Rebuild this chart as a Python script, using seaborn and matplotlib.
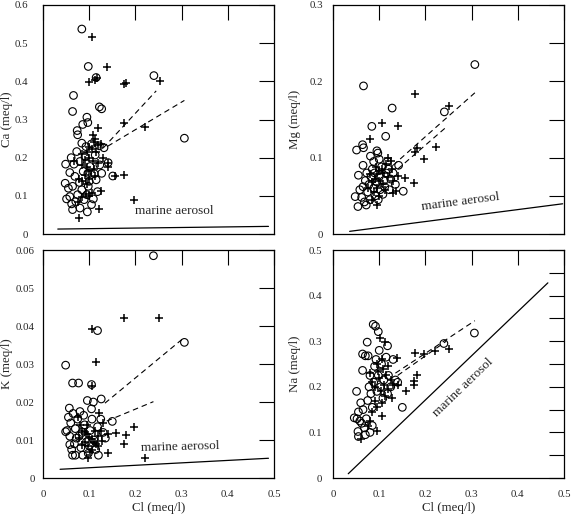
import matplotlib
matplotlib.use("Agg")
import matplotlib.pyplot as plt
import seaborn as sns
from matplotlib.ticker import MultipleLocator, FixedLocator, FixedFormatter

sns.set_style("white")
plt.rcParams["font.family"] = ["Liberation Serif", "DejaVu Serif"]

# ---- Ca vs Cl ----
ca_o_cl = [0.084, 0.098, 0.066, 0.064, 0.122, 0.127, 0.095, 0.097, 0.086, 0.074, 0.075, 0.240, 0.306, 0.115,
           0.049, 0.061, 0.048, 0.058, 0.055, 0.051, 0.062, 0.064, 0.080, 0.096, 0.105, 0.109, 0.089, 0.075,
           0.095, 0.079, 0.100, 0.115, 0.127, 0.141, 0.151, 0.084, 0.093, 0.105, 0.122, 0.132, 0.080, 0.067,
           0.091, 0.113, 0.102, 0.087, 0.069, 0.064, 0.084, 0.098, 0.111, 0.123, 0.073, 0.058, 0.071, 0.118, 0.097]
ca_o = [0.537, 0.439, 0.363, 0.321, 0.333, 0.328, 0.306, 0.292, 0.287, 0.271, 0.260, 0.415, 0.251, 0.410,
        0.183, 0.200, 0.133, 0.161, 0.120, 0.092, 0.079, 0.064, 0.068, 0.058, 0.077, 0.092, 0.090, 0.103,
        0.103, 0.135, 0.138, 0.142, 0.159, 0.187, 0.152, 0.238, 0.229, 0.236, 0.231, 0.226, 0.190, 0.183,
        0.203, 0.207, 0.177, 0.164, 0.151, 0.125, 0.116, 0.125, 0.158, 0.181, 0.216, 0.098, 0.085, 0.111, 0.159]
ca_p_cl = [0.107, 0.139, 0.116, 0.112, 0.100, 0.179, 0.176, 0.253, 0.175, 0.221, 0.120, 0.196, 0.122, 0.079,
           0.125, 0.175, 0.156, 0.141, 0.141,
           0.108, 0.112, 0.110, 0.118, 0.125, 0.100, 0.105, 0.095, 0.085, 0.115, 0.100, 0.090, 0.108, 0.120,
           0.085, 0.095, 0.110, 0.100, 0.090, 0.078, 0.085, 0.100, 0.113, 0.095, 0.105, 0.092, 0.085, 0.100,
           0.075, 0.068, 0.130]
ca_p = [0.517, 0.438, 0.409, 0.403, 0.397, 0.395, 0.392, 0.402, 0.292, 0.280, 0.279, 0.090, 0.065, 0.041,
        0.113, 0.155, 0.153, 0.186, 0.175,
        0.260, 0.250, 0.240, 0.232, 0.235, 0.228, 0.222, 0.215, 0.210, 0.215, 0.200, 0.195, 0.190, 0.185,
        0.180, 0.175, 0.170, 0.165, 0.155, 0.145, 0.140, 0.145, 0.152, 0.130, 0.108, 0.105, 0.098, 0.100,
        0.085, 0.190, 0.200]
ca_fit1_cl = [0.130, 0.245]
ca_fit1 = [0.225, 0.375]
ca_fit2_cl = [0.140, 0.306]
ca_fit2 = [0.230, 0.350]
ca_sea_cl = [0.032, 0.488]
ca_sea = [0.013, 0.020]

# ---- Mg vs Cl ----
mg_o_cl = [0.307, 0.066, 0.128, 0.241, 0.084, 0.114, 0.064, 0.066, 0.051, 0.095, 0.097, 0.081, 0.065, 0.055,
           0.142, 0.152, 0.048, 0.054,
           0.058, 0.062, 0.068, 0.072, 0.075, 0.078, 0.070, 0.082, 0.085, 0.090, 0.088, 0.092, 0.095, 0.100,
           0.102, 0.105, 0.110, 0.112, 0.115, 0.120, 0.118, 0.125, 0.130, 0.098, 0.080, 0.065, 0.108, 0.122,
           0.135, 0.073, 0.088, 0.100]
mg_o = [0.222, 0.194, 0.165, 0.160, 0.141, 0.128, 0.117, 0.113, 0.110, 0.109, 0.106, 0.102, 0.090, 0.077,
        0.090, 0.056, 0.049, 0.036,
        0.058, 0.048, 0.042, 0.038, 0.055, 0.065, 0.070, 0.075, 0.085, 0.080, 0.060, 0.050, 0.068, 0.075,
        0.058, 0.088, 0.070, 0.062, 0.080, 0.085, 0.095, 0.072, 0.080, 0.045, 0.045, 0.062, 0.052, 0.058,
        0.065, 0.080, 0.095, 0.098]
mg_p_cl = [0.177, 0.252, 0.107, 0.141, 0.079, 0.182, 0.222, 0.177, 0.196, 0.176, 0.156, 0.141, 0.130, 0.137, 0.095,
           0.120, 0.125, 0.115, 0.105, 0.110, 0.100, 0.095, 0.090, 0.085, 0.100, 0.108, 0.118, 0.128, 0.095,
           0.088, 0.100, 0.080, 0.075, 0.112, 0.092, 0.130, 0.085]
mg_p = [0.183, 0.168, 0.146, 0.142, 0.124, 0.113, 0.114, 0.107, 0.098, 0.067, 0.073, 0.076, 0.054, 0.056, 0.038,
        0.100, 0.095, 0.092, 0.085, 0.080, 0.082, 0.078, 0.072, 0.068, 0.070, 0.065, 0.075, 0.085, 0.060,
        0.055, 0.050, 0.078, 0.060, 0.058, 0.088, 0.070, 0.045]
mg_fit1_cl = [0.130, 0.307]
mg_fit1 = [0.090, 0.185]
mg_fit2_cl = [0.140, 0.245]
mg_fit2 = [0.085, 0.140]
mg_sea_cl = [0.036, 0.497]
mg_sea = [0.0035, 0.0396]

# ---- K vs Cl ----
k_o_cl = [0.239, 0.118, 0.306, 0.049, 0.064, 0.077, 0.105, 0.096, 0.109, 0.126, 0.105, 0.150, 0.057, 0.049,
          0.055, 0.060, 0.058, 0.052, 0.065, 0.070, 0.068, 0.062, 0.064, 0.070, 0.075, 0.078, 0.082, 0.086,
          0.090, 0.094, 0.098, 0.102, 0.106, 0.110, 0.114, 0.120, 0.125, 0.130, 0.135, 0.080, 0.088, 0.072,
          0.118, 0.058, 0.085, 0.100]
k_o = [0.0585, 0.0388, 0.0357, 0.0297, 0.0250, 0.0250, 0.0246, 0.0204, 0.0200, 0.0208, 0.0182, 0.0149, 0.0184, 0.0122,
       0.0160, 0.0145, 0.0110, 0.0125, 0.0170, 0.0130, 0.0090, 0.0075, 0.0060, 0.0060, 0.0155, 0.0110, 0.0080, 0.0060,
       0.0140, 0.0095, 0.0065, 0.0125, 0.0155, 0.0100, 0.0075, 0.0060, 0.0155, 0.0120, 0.0105, 0.0175, 0.0165, 0.0105,
       0.0135, 0.0088, 0.0120, 0.0085]
k_p_cl = [0.175, 0.252, 0.107, 0.114, 0.105, 0.122, 0.196, 0.180, 0.175, 0.157, 0.140, 0.140, 0.220, 0.097,
          0.075, 0.080, 0.085, 0.090, 0.095, 0.100, 0.105, 0.110, 0.115, 0.120, 0.090, 0.098, 0.105, 0.085,
          0.112, 0.118, 0.125, 0.130, 0.095, 0.102, 0.078, 0.128]
k_p = [0.0422, 0.0422, 0.0393, 0.0306, 0.0242, 0.0172, 0.0135, 0.0113, 0.0089, 0.0119, 0.0115, 0.0065, 0.0053, 0.0052,
       0.0160, 0.0140, 0.0125, 0.0120, 0.0115, 0.0108, 0.0102, 0.0095, 0.0090, 0.0085, 0.0095, 0.0085, 0.0075, 0.0088,
       0.0125, 0.0110, 0.0125, 0.0145, 0.0140, 0.0068, 0.0105, 0.0098]
k_fit1_cl = [0.134, 0.302]
k_fit1 = [0.0197, 0.0366]
k_fit2_cl = [0.138, 0.239]
k_fit2 = [0.0150, 0.0201]
k_sea_cl = [0.037, 0.488]
k_sea = [0.0023, 0.0052]

# ---- Na vs Cl ----
na_o_cl = [0.306, 0.240, 0.087, 0.092, 0.098, 0.074, 0.064, 0.070, 0.076, 0.118, 0.064, 0.051, 0.150, 0.054,
           0.055, 0.046,
           0.052, 0.058, 0.055, 0.060, 0.065, 0.062, 0.068, 0.070, 0.072, 0.075, 0.078, 0.080, 0.082, 0.085,
           0.088, 0.090, 0.093, 0.095, 0.098, 0.100, 0.103, 0.105, 0.108, 0.110, 0.115, 0.118, 0.120, 0.125,
           0.130, 0.135, 0.140, 0.085, 0.080]
na_o = [0.318, 0.295, 0.337, 0.333, 0.321, 0.298, 0.272, 0.268, 0.268, 0.290, 0.236, 0.190, 0.155, 0.102,
        0.091, 0.132,
        0.130, 0.125, 0.145, 0.165, 0.150, 0.120, 0.110, 0.095, 0.130, 0.170, 0.200, 0.225, 0.185, 0.155,
        0.210, 0.245, 0.260, 0.190, 0.225, 0.280, 0.200, 0.250, 0.175, 0.215, 0.265, 0.185, 0.225, 0.200,
        0.260, 0.215, 0.210, 0.115, 0.100]
na_p_cl = [0.101, 0.113, 0.139, 0.177, 0.196, 0.220, 0.251, 0.181, 0.175, 0.175, 0.157, 0.105, 0.095, 0.060,
           0.080, 0.085, 0.090, 0.095, 0.098, 0.100, 0.103, 0.105, 0.108, 0.110, 0.113, 0.115, 0.120, 0.125,
           0.128, 0.130, 0.140, 0.090, 0.095, 0.085, 0.080, 0.075, 0.105, 0.118]
na_p = [0.308, 0.298, 0.263, 0.274, 0.273, 0.279, 0.283, 0.227, 0.205, 0.212, 0.190, 0.135, 0.104, 0.086,
        0.230, 0.210, 0.200, 0.250, 0.235, 0.220, 0.190, 0.260, 0.240, 0.205, 0.180, 0.225, 0.195, 0.215,
        0.175, 0.205, 0.205, 0.170, 0.155, 0.145, 0.125, 0.115, 0.165, 0.245]
na_fit1_cl = [0.135, 0.307]
na_fit1 = [0.230, 0.345]
na_fit2_cl = [0.140, 0.245]
na_fit2 = [0.225, 0.300]
na_sea_cl = [0.033, 0.465]
na_sea = [0.0094, 0.428]

x_ticks = [0, 0.1, 0.2, 0.3, 0.4, 0.5]
x_labels = ["0", "0.1", "0.2", "0.3", "0.4", "0.5"]


def panel(ax, o_x, o_y, p_x, p_y, f1x, f1y, f2x, f2y, sx, sy, ymax, yticks, ylabels, ystep, ylabel,
          text_xy, text_rot, bottom, ypad):
    sns.scatterplot(x=o_x, y=o_y, ax=ax, marker="o", s=30, facecolors="none", edgecolor="black",
                    linewidth=0.8, zorder=3)
    sns.scatterplot(x=p_x, y=p_y, ax=ax, marker="+", s=40, color="black", linewidth=1.1, zorder=3)
    ax.plot(f1x, f1y, color="black", lw=0.8, dashes=(5, 3.5))
    ax.plot(f2x, f2y, color="black", lw=0.8, dashes=(5, 3.5))
    ax.plot(sx, sy, color="black", lw=0.9)
    ax.text(text_xy[0], text_xy[1], "marine aerosol", fontsize=9.5, rotation=text_rot,
            ha="center", va="center", rotation_mode="anchor")
    ax.set_xlim(0, 0.5)
    ax.set_ylim(0, ymax)
    ax.xaxis.set_major_locator(FixedLocator(x_ticks))
    ax.xaxis.set_major_formatter(FixedFormatter(x_labels))
    ax.yaxis.set_major_locator(FixedLocator(yticks))
    ax.yaxis.set_major_formatter(FixedFormatter(ylabels))
    ax.yaxis.set_minor_locator(MultipleLocator(ystep))
    ax.tick_params(which="both", direction="in", length=11, width=0.8, top=True, right=True,
                   labelsize=7.8, color="black")
    ax.tick_params(axis="x", pad=8.5, labelbottom=bottom)
    ax.tick_params(axis="y", pad=ypad)
    for s in ax.spines.values():
        s.set_color("black")
        s.set_linewidth(0.9)
    ax.set_ylabel(ylabel, fontsize=9.3)
    if bottom:
        ax.set_xlabel("Cl (meq/l)", fontsize=9.3, labelpad=2)
    else:
        ax.set_xlabel("")


fig = plt.figure(figsize=(5.71, 5.15), dpi=100)
ax_ca = fig.add_axes([0.0753, 0.5456, 0.4046, 0.4447])
ax_mg = fig.add_axes([0.5832, 0.5456, 0.4046, 0.4447])
ax_k = fig.add_axes([0.0753, 0.0718, 0.4046, 0.4427])
ax_na = fig.add_axes([0.5832, 0.0718, 0.4046, 0.4427])

panel(ax_ca, ca_o_cl, ca_o, ca_p_cl, ca_p, ca_fit1_cl, ca_fit1, ca_fit2_cl, ca_fit2, ca_sea_cl, ca_sea,
      0.6, [0, 0.1, 0.2, 0.3, 0.4, 0.5, 0.6], ["0", "0.1", "0.2", "0.3", "0.4", "0.5", "0.6"], 0.1,
      "Ca (meq/l)", (0.284, 0.059), 0, False, 10.8)
panel(ax_mg, mg_o_cl, mg_o, mg_p_cl, mg_p, mg_fit1_cl, mg_fit1, mg_fit2_cl, mg_fit2, mg_sea_cl, mg_sea,
      0.3, [0, 0.1, 0.2, 0.3], ["0", "0.1", "0.2", "0.3"], 0.05,
      "Mg (meq/l)", (0.275, 0.0415), 7.4, False, 7.2)
panel(ax_k, k_o_cl, k_o, k_p_cl, k_p, k_fit1_cl, k_fit1, k_fit2_cl, k_fit2, k_sea_cl, k_sea,
      0.06, [0, 0.01, 0.02, 0.03, 0.04, 0.05, 0.06], ["0", "0.01", "0.02", "0.03", "0.04", "0.05", "0.06"], 0.01,
      "K (meq/l)", (0.297, 0.0082), 1.5, True, 5.8)
panel(ax_na, na_o_cl, na_o, na_p_cl, na_p, na_fit1_cl, na_fit1, na_fit2_cl, na_fit2, na_sea_cl, na_sea,
      0.5, [0, 0.1, 0.2, 0.3, 0.4, 0.5], ["0", "0.1", "0.2", "0.3", "0.4", "0.5"], 0.05,
      "Na (meq/l)", (0.282, 0.198), 44, True, 8)

ax_ca.yaxis.set_label_coords(-0.132, 0.5)
ax_mg.yaxis.set_label_coords(-0.1385, 0.5)
ax_k.yaxis.set_label_coords(-0.132, 0.5)
ax_na.yaxis.set_label_coords(-0.1385, 0.5)

fig.savefig("out.png", dpi=100)
